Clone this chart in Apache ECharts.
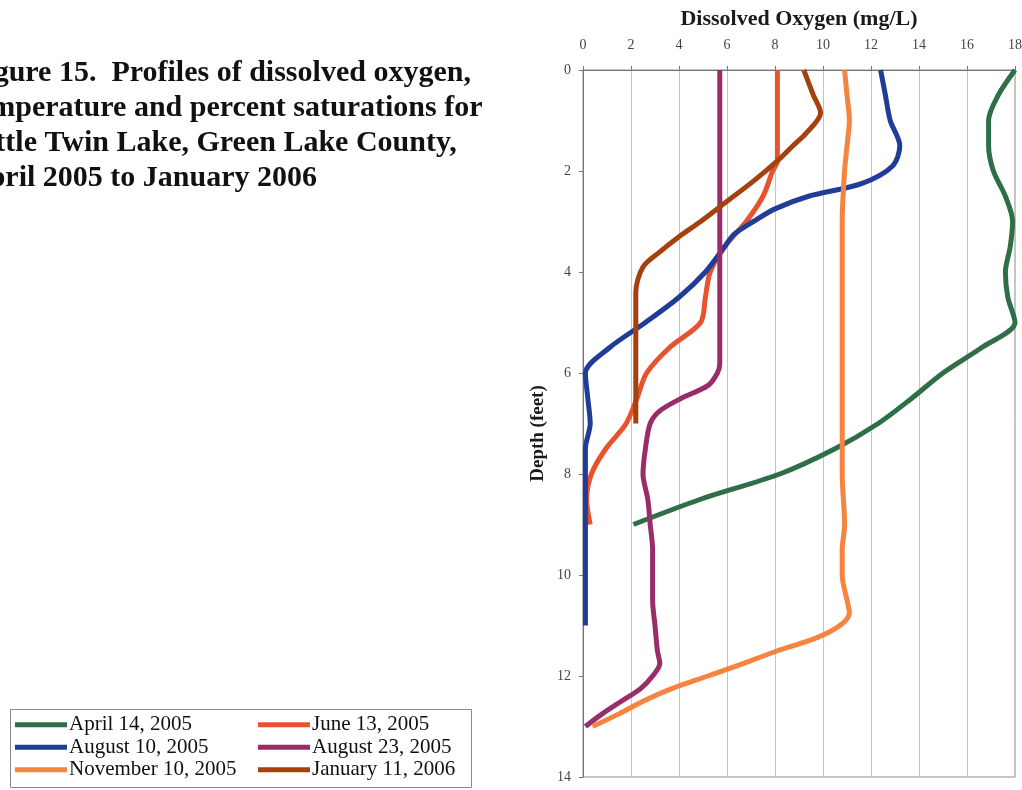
<!DOCTYPE html>
<html>
<head>
<meta charset="utf-8">
<title>Little Twin Lake dissolved oxygen profiles</title>
<script src="https://cdn.jsdelivr.net/npm/echarts@6/dist/echarts.min.js"></script>
<style>
  html, body { margin: 0; padding: 0; background: #fff; }
  #chart { width: 1022px; height: 790px; }
</style>
</head>
<body>
<div id="chart"></div>
<script>
// Dissolved oxygen (mg/L) versus depth (feet), one profile per sampling date
const seriesNames = ['April 14, 2005', 'June 13, 2005', 'August 10, 2005',
                     'August 23, 2005', 'November 10, 2005', 'January 11, 2006'];

const aprDepth = [0, 0.5, 1, 1.5, 2, 2.5, 3, 3.5, 4, 4.5, 5, 5.5, 6, 6.5, 7, 7.5, 8, 8.5, 9];
const aprDO    = [18.0, 17.3, 16.9, 16.9, 17.1, 17.6, 17.9, 17.8, 17.6, 17.7, 18.0, 16.6, 15.0, 13.7, 12.3, 10.5, 8.2, 4.9, 2.1];

const junDepth = [0, 0.5, 1, 1.5, 1.8, 2, 2.5, 3, 3.5, 4, 4.5, 5, 5.5, 6, 6.5, 7, 7.5, 8, 8.5, 9];
const junDO    = [8.1, 8.1, 8.1, 8.1, 8.1, 7.9, 7.5, 6.8, 5.9, 5.3, 5.1, 4.9, 3.6, 2.65, 2.25, 1.8, 0.95, 0.35, 0.15, 0.3];

const aug10Depth = [0, 0.5, 1, 1.5, 1.9, 2.25, 2.5, 2.75, 3, 3.25, 3.5, 4, 4.5, 5, 5.5, 6, 6.5, 7, 7.5, 8, 9, 10, 11];
const aug10DO    = [12.4, 12.6, 12.8, 13.2, 12.9, 11.6, 9.4, 8.0, 7.1, 6.3, 5.9, 5.1, 4.0, 2.6, 1.1, 0.1, 0.2, 0.3, 0.1, 0.1, 0.1, 0.1, 0.1];

const aug23Depth = [0, 1, 2, 3, 4, 5, 5.8, 6, 6.25, 6.5, 6.75, 7, 7.5, 8, 8.5, 9, 9.5, 10, 10.5, 11, 11.5, 11.75, 12, 12.25, 12.5, 12.75, 13];
const aug23DO    = [5.7, 5.7, 5.7, 5.7, 5.7, 5.7, 5.7, 5.6, 5.2, 4.1, 3.2, 2.8, 2.6, 2.5, 2.7, 2.8, 2.9, 2.9, 2.9, 3.0, 3.1, 3.2, 2.9, 2.4, 1.6, 0.8, 0.1];

const novDepth = [0, 0.5, 1, 1.5, 2, 3, 4, 5, 6, 7, 8, 9, 9.5, 10, 10.5, 10.75, 11, 11.25, 11.5, 11.75, 12, 12.25, 12.5, 12.75, 13];
const novDO    = [10.9, 11.0, 11.1, 11.0, 10.9, 10.8, 10.8, 10.8, 10.8, 10.8, 10.8, 10.9, 10.8, 10.8, 11.0, 11.1, 10.7, 9.7, 8.1, 6.7, 5.2, 3.7, 2.5, 1.5, 0.4];

const janDepth = [0, 0.5, 0.85, 1.25, 1.5, 1.8, 2.2, 2.6, 3, 3.3, 3.6, 3.9, 4.4, 5, 6, 7];
const janDO    = [9.2, 9.6, 9.9, 9.3, 8.75, 8.1, 7.1, 6.0, 4.9, 4.0, 3.2, 2.5, 2.2, 2.2, 2.2, 2.2];

const profiles = [
  [aprDO, aprDepth], [junDO, junDepth], [aug10DO, aug10Depth],
  [aug23DO, aug23Depth], [novDO, novDepth], [janDO, janDepth]
];
const lineColors = ['#2E6F47', '#E8532F', '#1F3C96', '#9A2D68', '#F4843F', '#A3420F'];

const titleLines = [
  'Figure 15.  Profiles of dissolved oxygen,',
  'temperature and percent saturations for',
  'Little Twin Lake, Green Lake County,',
  'April 2005 to January 2006'
];

const serif = '"Liberation Serif", "DejaVu Serif", serif';

const series = profiles.map(function (p, i) {
  return {
    name: seriesNames[i],
    type: 'line',
    data: p[0].map(function (v, k) { return [v, p[1][k]]; }),
    showSymbol: false,
    symbol: 'none',
    smooth: 0.3,
    itemStyle: { color: lineColors[i] },
    lineStyle: { color: lineColors[i], width: 5 },
    z: 2 + i
  };
});

const legendCommon = {
  orient: 'vertical',
  icon: 'rect',
  itemWidth: 52,
  itemHeight: 5,
  itemGap: 1,
  padding: 0,
  selectedMode: false,
  top: 714,
  textStyle: { fontFamily: serif, fontSize: 21, lineHeight: 21.5, color: '#111', padding: [0, 0, 0, -3] }
};

const graphics = titleLines.map(function (t, i) {
  return {
    type: 'text',
    left: -33,
    top: 58 + i * 35,
    style: { text: t, font: 'bold 30px ' + serif, fill: '#111' },
    silent: true
  };
});
graphics.push({
  type: 'rect',
  shape: { x: 10.5, y: 709.5, width: 461, height: 78 },
  style: { fill: 'none', stroke: '#8a8a8a', lineWidth: 1 },
  silent: true
});

const chart = echarts.init(document.getElementById('chart'), null, { renderer: 'canvas' });
chart.setOption({
  animation: false,
  backgroundColor: '#ffffff',
  grid: {
    left: 583, right: 7, top: 70, bottom: 13,
    outerBoundsMode: 'none',
    containLabel: false,
    show: true, borderColor: '#8a8a8a', borderWidth: 1
  },
  xAxis: {
    type: 'value',
    position: 'top',
    min: 0, max: 18, interval: 2,
    name: 'Dissolved Oxygen (mg/L)',
    nameLocation: 'middle',
    nameGap: 40,
    nameTextStyle: { fontFamily: serif, fontWeight: 'bold', fontSize: 22, color: '#1a1a1a' },
    axisLine: { show: true, lineStyle: { color: '#777', width: 1 } },
    axisTick: { show: true, length: 4, lineStyle: { color: '#777' } },
    axisLabel: { fontFamily: serif, fontSize: 14, color: '#444', margin: 18 },
    splitLine: { show: true, lineStyle: { color: '#c4c4c4', width: 1 } }
  },
  yAxis: {
    type: 'value',
    inverse: true,
    min: 0, max: 14, interval: 2,
    name: 'Depth (feet)',
    nameLocation: 'middle',
    nameGap: 35,
    nameRotate: 90,
    nameTextStyle: { fontFamily: serif, fontWeight: 'bold', fontSize: 19, color: '#1a1a1a', padding: [0, 20, 0, 0] },
    axisLine: { show: true, lineStyle: { color: '#777', width: 1 } },
    axisTick: { show: true, length: 4, lineStyle: { color: '#777' } },
    axisLabel: { fontFamily: serif, fontSize: 14, color: '#444', margin: 12 },
    splitLine: { show: false }
  },
  legend: [
    Object.assign({}, legendCommon, { left: 15, data: [seriesNames[0], seriesNames[2], seriesNames[4]] }),
    Object.assign({}, legendCommon, { left: 258, data: [seriesNames[1], seriesNames[3], seriesNames[5]] })
  ],
  graphic: graphics,
  series: series
});
</script>
</body>
</html>
